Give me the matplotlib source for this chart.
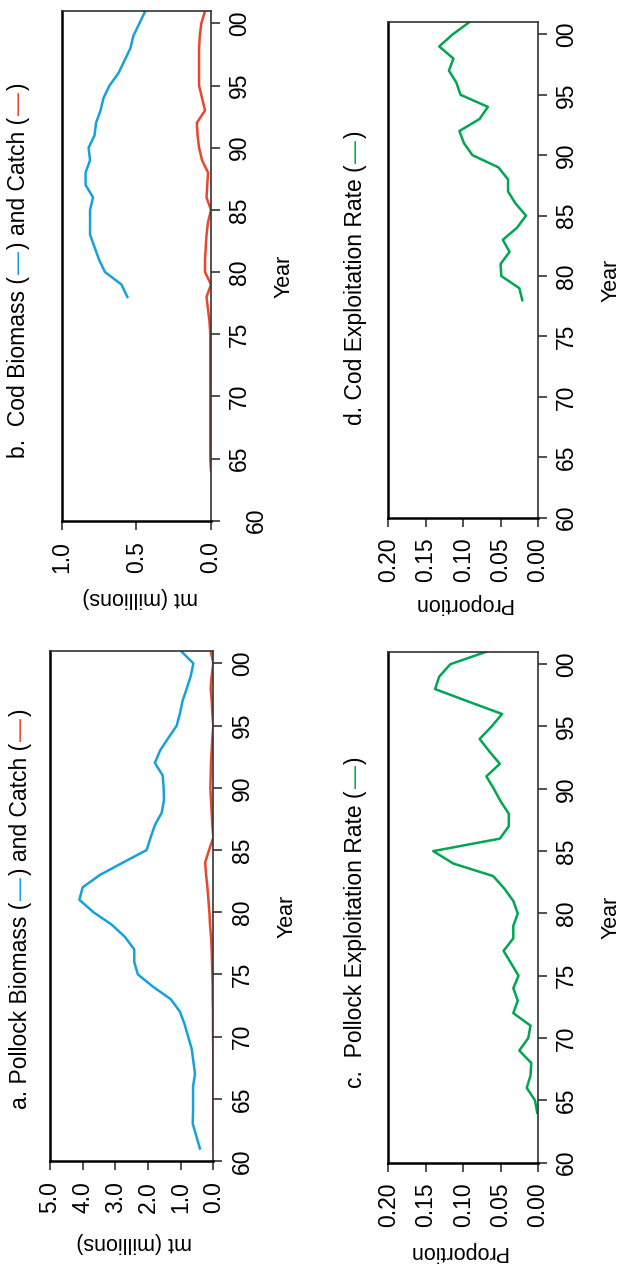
import numpy as np
import matplotlib
matplotlib.use("Agg")
import matplotlib.pyplot as plt
import matplotlib.transforms as mtransforms

plt.rcParams['font.family'] = ['Liberation Sans', 'DejaVu Sans']

# --- data ---
pollock_years = np.arange(1961, 2002)
pollock_biomass = [0.41, 0.52, 0.63, 0.62, 0.62, 0.62, 0.56, 0.61, 0.66, 0.77,
                   0.88, 1.02, 1.30, 1.84, 2.31, 2.42, 2.42, 2.70, 3.11, 3.67,
                   4.10, 4.00, 3.47, 2.76, 2.04, 1.92, 1.79, 1.58, 1.51, 1.52,
                   1.55, 1.79, 1.63, 1.38, 1.12, 1.02, 0.94, 0.81, 0.69, 0.61, 0.99]
pollock_catch = [0.0, 0.0, 0.0, 0.0, 0.0, 0.0, 0.0, 0.0, 0.0, 0.01,
                 0.01, 0.01, 0.02, 0.02, 0.03, 0.04, 0.05, 0.07, 0.10, 0.12,
                 0.15, 0.18, 0.22, 0.25, 0.13, 0.0, 0.03, 0.05, 0.07, 0.09,
                 0.08, 0.07, 0.05, 0.03, 0.0, 0.03, 0.05, 0.08, 0.05, 0.0, 0.08]

cod_bio_years = np.arange(1978, 2002)
cod_biomass = [0.56, 0.60, 0.71, 0.75, 0.78, 0.81, 0.81, 0.81, 0.79, 0.84,
               0.84, 0.81, 0.82, 0.78, 0.77, 0.74, 0.72, 0.68, 0.62, 0.58,
               0.54, 0.52, 0.48, 0.44]
cod_catch_years = np.arange(1964, 2002)
cod_catch = [0.0, 0.005, 0.005, 0.005, 0.005, 0.005, 0.005, 0.005, 0.005, 0.005,
             0.005, 0.005, 0.01, 0.02, 0.03, 0.0, 0.04, 0.04, 0.035, 0.03,
             0.02, 0.0, 0.03, 0.025, 0.02, 0.06, 0.08, 0.09, 0.095, 0.04,
             0.06, 0.08, 0.08, 0.08, 0.08, 0.075, 0.065, 0.04]

pollock_expl_years = np.arange(1964, 2002)
pollock_expl = [0.001, 0.004, 0.015, 0.010, 0.009, 0.025, 0.013, 0.010, 0.033, 0.027,
                0.033, 0.026, 0.036, 0.046, 0.033, 0.033, 0.027, 0.033, 0.045, 0.060,
                0.113, 0.140, 0.051, 0.039, 0.039, 0.050, 0.059, 0.069, 0.051, 0.065,
                0.078, 0.062, 0.048, 0.093, 0.1375, 0.132, 0.117, 0.069]
cod_expl_years = np.arange(1978, 2002)
cod_expl = [0.021, 0.025, 0.049, 0.050, 0.038, 0.047, 0.028, 0.016, 0.030, 0.040,
            0.040, 0.053, 0.0875, 0.099, 0.105, 0.078, 0.067, 0.1035, 0.109, 0.119,
            0.113, 0.132, 0.114, 0.092]

year_ticks = list(range(1960, 2001, 5))
mt_ticks = [0.0, 1.0, 2.0, 3.0, 4.0, 5.0]
cod_ticks = [0.0, 0.5, 1.0]
prop_ticks = [0.0, 0.05, 0.10, 0.15, 0.20]

BLUE = '#17a1dc'
RED = '#e8472b'
GREEN = '#00a651'

# the figure is the landscape original turned 90 degrees counter-clockwise,
# so value runs right-to-left along x and year runs upwards along y
W, H = 620, 1265
fig = plt.figure(figsize=(W / 100, H / 100), dpi=100)


def panel(box, vmax, vticks, fmt, xlabel, xlab_pos):
    # box = (left, top, right, bottom) in image pixels
    l, t, r, b = box
    wpx, hpx = r - l, b - t
    ax = fig.add_axes([l / W, 1 - b / H, wpx / W, hpx / H])
    ax.set_xlim(vmax, 0)
    ax.set_ylim(1960, 2001)
    ax.set_xticks(vticks)
    ax.set_xticklabels([fmt % v for v in vticks], rotation=90)
    ax.yaxis.tick_right()
    ax.yaxis.set_label_position('right')
    ax.set_yticks(year_ticks)
    ax.set_yticklabels(['%02d' % (y % 100) for y in year_ticks])
    for lbl in ax.get_yticklabels():
        lbl.set_rotation(90)
        lbl.set_va('center')
        lbl.set_ha('left')
    ax.tick_params(length=6.5, width=1.1, color='#222222', labelsize=16.5)
    ax.tick_params(axis='x', pad=8)
    ax.tick_params(axis='y', pad=6)
    ax.set_xlabel(xlabel, rotation=180, fontsize=15.5)
    ax.set_ylabel('Year', rotation=90, fontsize=15.5)
    # label placement measured in pixels from the reference
    xc, dist = xlab_pos
    ax.xaxis.set_label_coords((xc - l) / wpx, -dist / hpx)
    ax.yaxis.set_label_coords(1 + 63 / wpx, 0.48)
    for side in ['left', 'bottom']:
        ax.spines[side].set_linewidth(1.8)
        ax.spines[side].set_color('black')
    for side in ['top', 'right']:
        ax.spines[side].set_linewidth(1.2)
        ax.spines[side].set_color('#333333')
    return ax


def colored_title(x_px, y_top, y_bot, parts, size=16.5):
    texts = [fig.text(0, 0, s, color=c, fontsize=size, rotation=90,
                      rotation_mode='anchor', ha='left', va='baseline')
             for s, c in parts]
    rend = fig.canvas.get_renderer()
    lens = [tx.get_window_extent(rend).height for tx in texts]
    gap = 2
    total = sum(lens) + gap * (len(lens) - 1)
    yc = H - (y_top + y_bot) / 2
    y = yc - total / 2
    for tx, L in zip(texts, lens):
        tx.set_position((x_px / W, y / H))
        y += L + gap


# a. Pollock biomass and catch
ax_a = panel((50, 651, 213.3, 1161), 5, mt_ticks, '%.1f', 'mt (millions)', (134, 71))
ax_a.plot(pollock_biomass, pollock_years, color=BLUE, lw=1.8)
ax_a.plot(pollock_catch, pollock_years, color=RED, lw=1.8)

# b. Cod biomass and catch
ax_b = panel((61.7, 11, 211, 520.7), 1, cod_ticks, '%.1f', 'mt (millions)', (140, 66))
ax_b.plot(cod_biomass, cod_bio_years, color=BLUE, lw=1.8)
ax_b.plot(cod_catch, cod_catch_years, color=RED, lw=1.8)
lbl60 = ax_b.get_yticklabels()[0]
lbl60.set_transform(lbl60.get_transform() +
                    mtransforms.ScaledTranslation(0.17, 0, fig.dpi_scale_trans))

# c. Pollock exploitation rate
ax_c = panel((388.3, 651.7, 538, 1162.7), 0.2, prop_ticks, '%.2f', 'Proportion', (457.5, 78))
ax_c.plot(pollock_expl, pollock_expl_years, color=GREEN, lw=1.8)

# d. Cod exploitation rate
ax_d = panel((388.3, 22.3, 538, 517.7), 0.2, prop_ticks, '%.2f', 'Proportion', (462.5, 75))
ax_d.plot(cod_expl, cod_expl_years, color=GREEN, lw=1.8)

colored_title(27, 707, 1110, [('a. Pollock Biomass (', 'black'), ('\u2014', BLUE),
                              (') and Catch (', 'black'), ('\u2014', RED), (')', 'black')])
colored_title(25, 87, 454, [('b.  Cod Biomass (', 'black'), ('\u2014', BLUE),
                            (') and Catch (', 'black'), ('\u2014', RED), (')', 'black')])
colored_title(362, 762, 1082, [('c.  Pollock Exploitation Rate (', 'black'),
                               ('\u2014', GREEN), (')', 'black')])
colored_title(362, 133, 423, [('d. Cod Exploitation Rate (', 'black'),
                              ('\u2014', GREEN), (')', 'black')])

fig.savefig('out.png', dpi=100)
